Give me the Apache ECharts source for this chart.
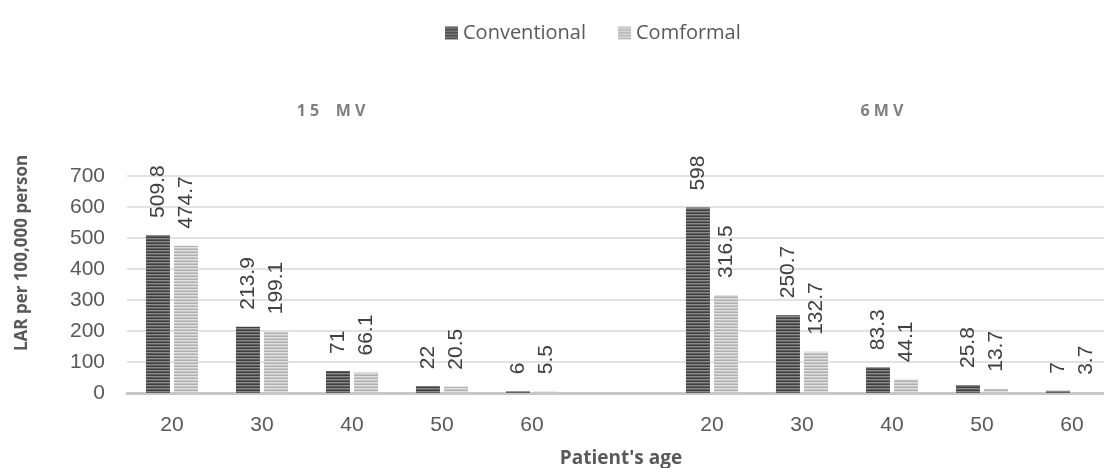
<!DOCTYPE html>
<html>
<head>
<meta charset="utf-8">
<script src="https://cdn.jsdelivr.net/npm/echarts@6/dist/echarts.min.js"></script>
<style>html,body{margin:0;padding:0;background:#fff;}#c{width:1104px;height:468px;}</style>
</head>
<body>
<div id="c"></div>
<script>
var categories = ['20', '30', '40', '50', '60', '', '20', '30', '40', '50', '60'];
var conventional = [509.8, 213.9, 71, 22, 6, null, 598, 250.7, 83.3, 25.8, 7];
var comformal = [474.7, 199.1, 66.1, 20.5, 5.5, null, 316.5, 132.7, 44.1, 13.7, 3.7];
var seriesNames = ['Conventional', 'Comformal'];
var groupLabels = ['1 5    M V', '6 M V'];
var yTicks = [0, 100, 200, 300, 400, 500, 600, 700];

function stripe(colors) {
  var cv = document.createElement('canvas');
  cv.width = 4; cv.height = colors.length;
  var ctx = cv.getContext('2d');
  for (var i = 0; i < colors.length; i++) {
    ctx.fillStyle = colors[i];
    ctx.fillRect(0, i, 4, 1);
  }
  return { image: cv, repeat: 'repeat' };
}
var darkPat = stripe(['#3f3f3f', '#8a8a8a', '#5f5f5f']);
var lightPat = stripe(['#b0b0b0', '#e2e2e2', '#c6c6c6']);

var chart = echarts.init(document.getElementById('c'));
var labelCfg = {
  show: true, position: 'top', rotate: 90, distance: 17,
  align: 'left', verticalAlign: 'middle',
  fontFamily: 'Liberation Sans', fontSize: 21, color: '#404040'
};
chart.setOption({
  animation: false,
  legend: {
    left: 440, top: 18, itemWidth: 13, itemHeight: 13, itemGap: 32,
    icon: 'rect',
    textStyle: { fontFamily: 'Open Sans', fontSize: 20, color: '#595959' },
    data: seriesNames
  },
  grid: { left: 127, width: 990, top: 176, bottom: 75, containLabel: false, outerBoundsMode: 'none' },
  xAxis: {
    type: 'category', data: categories,
    axisLine: { lineStyle: { color: '#c8c8c8', width: 3 } },
    axisTick: { show: false },
    axisLabel: { margin: 22, fontFamily: 'Liberation Sans', fontSize: 21, color: '#595959' }
  },
  yAxis: {
    type: 'value', min: 0, max: 700, interval: 100,
    axisLine: { show: false }, axisTick: { show: false },
    splitLine: { lineStyle: { color: '#d9d9d9', width: 1.5 } },
    axisLabel: { margin: 22, fontFamily: 'Liberation Sans', fontSize: 21, color: '#595959' }
  },
  series: [
    { name: seriesNames[0], type: 'bar', data: conventional, barWidth: 24, barGap: '17%',
      itemStyle: { color: darkPat }, label: labelCfg },
    { name: seriesNames[1], type: 'bar', data: comformal, barWidth: 24, barGap: '17%',
      itemStyle: { color: lightPat }, label: labelCfg }
  ],
  graphic: [
    { type: 'text', x: 331, y: 111,
      style: { text: groupLabels[0], fontFamily: 'Open Sans', fontWeight: 'bold', fontSize: 16, fill: '#7f7f7f', align: 'center', verticalAlign: 'middle' } },
    { type: 'text', x: 882, y: 111,
      style: { text: groupLabels[1], fontFamily: 'Open Sans', fontWeight: 'bold', fontSize: 16, fill: '#7f7f7f', align: 'center', verticalAlign: 'middle' } },
    { type: 'text', x: 22, y: 253, rotation: Math.PI / 2,
      style: { text: 'LAR per 100,000 person', fontFamily: 'Open Sans', fontWeight: 'bold', fontSize: 17, fill: '#595959', align: 'center', verticalAlign: 'middle' } },
    { type: 'text', x: 621, y: 459,
      style: { text: "Patient's age", fontFamily: 'Open Sans', fontWeight: 'bold', fontSize: 19, fill: '#595959', align: 'center', verticalAlign: 'middle' } }
  ]
});
</script>
</body>
</html>
